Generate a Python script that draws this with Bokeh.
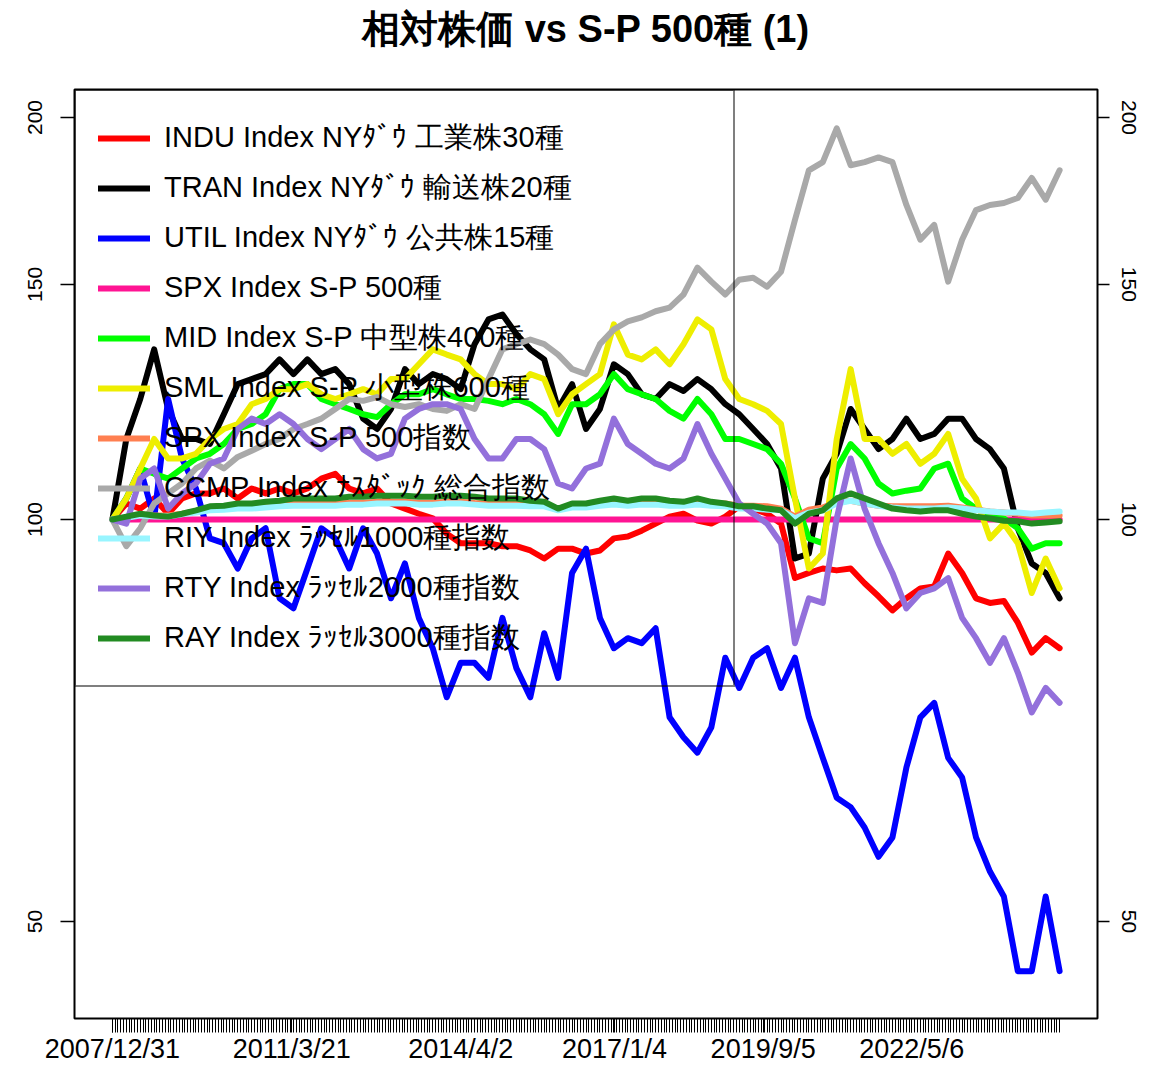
import numpy as np
import pandas as pd
from bokeh.plotting import figure
from bokeh.models import (FixedTicker, LogAxis, Legend, LegendItem, Range1d,
                          ColumnDataSource)
from bokeh.embed import file_html
from bokeh.resources import INLINE

# ---------------- data (quarterly samples, relative to S&P 500 = 100) ----------------
start_date = "2007/12/31"
tick_dates = ["2007/12/31", "2011/3/21", "2014/4/2", "2017/1/4", "2019/9/5", "2022/5/6"]
y_ticks = [50, 100, 150, 200]

labels = [
    "INDU Index NYﾀﾞｳ 工業株30種",
    "TRAN Index NYﾀﾞｳ 輸送株20種",
    "UTIL Index NYﾀﾞｳ 公共株15種",
    "SPX Index S-P 500種",
    "MID Index S-P 中型株400種",
    "SML Index S-P 小型株600種",
    "SPX Index S-P 500指数",
    "CCMP Index ﾅｽﾀﾞｯｸ 総合指数",
    "RIY Index ﾗｯｾﾙ1000種指数",
    "RTY Index ﾗｯｾﾙ2000種指数",
    "RAY Index ﾗｯｾﾙ3000種指数",
]
colors = ["#FF0000", "#000000", "#0000FF", "#FF1493", "#00FF00", "#EEEE00",
          "#FF7F50", "#A9A9A9", "#98F5FF", "#9370DB", "#228B22"]

indu = [100.0, 102.8, 101.9, 103.7, 101.0, 103.7, 104.6, 104.6, 105.5, 103.7,
        105.5, 104.6, 105.5, 104.6, 105.5, 107.3, 108.2, 105.5, 104.6, 105.5,
        102.8, 101.9, 101.0, 100.2, 97.6, 96.0, 96.0, 96.0, 95.5, 95.5,
        94.8, 93.5, 95.1, 95.1, 94.3, 94.8, 96.8, 97.1, 98.1, 99.3,
        100.5, 101.0, 99.8, 99.3, 100.5, 102.3, 101.9, 101.0, 99.3, 90.4,
        91.2, 91.9, 91.6, 91.9, 89.6, 87.6, 85.5, 87.3, 88.8, 89.1,
        94.3, 91.2, 87.3, 86.6, 86.9, 83.7, 79.5, 81.5, 80.1]
tran = [100.0, 114.9, 123.1, 134.1, 121.0, 114.9, 114.9, 113.9, 119.9, 126.3,
        127.4, 128.5, 131.8, 128.5, 131.8, 128.5, 129.6, 126.3, 119.0, 116.9,
        121.0, 129.6, 126.3, 128.5, 127.4, 125.2, 135.3, 141.2, 142.4, 137.7,
        134.1, 131.8, 121.0, 126.3, 116.9, 121.0, 130.7, 128.5, 124.1, 123.1,
        126.3, 124.8, 127.4, 125.2, 122.0, 119.9, 116.9, 113.9, 109.2, 93.5,
        94.3, 107.3, 112.0, 121.0, 116.9, 112.9, 114.9, 119.0, 114.9, 115.9,
        119.0, 119.0, 114.9, 112.9, 109.2, 98.5, 92.7, 91.2, 87.3]
util = [100.0, 103.7, 109.2, 100.2, 123.1, 111.1, 105.5, 96.8, 96.0, 91.9,
        96.8, 98.5, 87.3, 85.8, 91.9, 98.5, 96.8, 91.9, 98.5, 94.3,
        87.3, 92.7, 84.4, 80.1, 73.6, 78.1, 78.1, 76.1, 84.4, 77.4,
        73.6, 82.2, 76.1, 91.2, 95.1, 84.4, 80.1, 81.5, 80.8, 82.9,
        71.1, 68.7, 66.9, 69.9, 78.8, 74.8, 78.8, 80.1, 74.8, 78.8,
        71.1, 66.3, 61.9, 60.9, 58.8, 55.9, 57.8, 65.2, 71.1, 72.9,
        66.3, 64.1, 57.8, 54.5, 52.2, 45.9, 45.9, 52.2, 45.9]
spx = [100.0, 100.0, 100.0, 100.0, 100.0, 100.0, 100.0, 100.0, 100.0, 100.0,
       100.0, 100.0, 100.0, 100.0, 100.0, 100.0, 100.0, 100.0, 100.0, 100.0,
       100.0, 100.0, 100.0, 100.0, 100.0, 100.0, 100.0, 100.0, 100.0, 100.0,
       100.0, 100.0, 100.0, 100.0, 100.0, 100.0, 100.0, 100.0, 100.0, 100.0,
       100.0, 100.0, 100.0, 100.0, 100.0, 100.0, 100.0, 100.0, 100.0, 100.0,
       100.0, 100.0, 100.0, 100.0, 100.0, 100.0, 100.0, 100.0, 100.0, 100.0,
       100.0, 100.0, 100.0, 100.0, 100.0, 100.0, 100.0, 100.0, 100.0]
mid = [100.0, 103.7, 109.2, 108.2, 107.3, 109.2, 111.1, 112.0, 113.9, 116.9,
       117.9, 119.9, 125.2, 126.3, 126.3, 123.1, 122.0, 121.0, 119.9, 119.3,
       122.0, 124.1, 124.1, 125.2, 124.1, 123.1, 123.1, 122.7, 122.0, 123.1,
       122.0, 119.9, 115.9, 122.0, 122.0, 124.1, 128.5, 125.2, 124.1, 123.1,
       120.6, 119.0, 123.1, 119.9, 114.9, 114.9, 113.9, 112.9, 110.1, 103.7,
       96.8, 96.0, 109.2, 113.9, 111.1, 106.4, 104.6, 105.1, 105.5, 109.2,
       110.1, 103.7, 101.9, 101.0, 100.2, 98.5, 95.1, 96.0, 96.0]
sml = [100.0, 103.7, 109.2, 114.9, 111.1, 111.1, 112.0, 114.9, 116.9, 117.9,
       122.0, 123.1, 125.2, 125.2, 126.3, 124.1, 123.1, 124.1, 125.2, 124.1,
       127.4, 127.4, 130.7, 134.1, 132.9, 131.8, 128.5, 126.3, 126.3, 125.2,
       128.5, 127.4, 119.9, 124.1, 126.3, 128.5, 140.0, 132.9, 131.8, 134.1,
       130.7, 135.3, 141.2, 138.8, 127.4, 123.1, 122.0, 120.6, 117.9, 103.7,
       91.9, 94.3, 114.9, 129.6, 114.9, 114.9, 112.0, 113.9, 110.1, 112.0,
       115.9, 107.3, 103.7, 96.8, 99.3, 96.0, 88.1, 93.5, 88.8]
spx_idx = [100.0, 100.3, 100.9, 100.7, 100.7, 101.0, 101.4, 101.7, 101.9, 102.1,
           102.3, 102.4, 102.6, 102.8, 102.8, 102.8, 102.8, 102.9, 102.9, 103.1,
           103.1, 103.1, 102.9, 102.9, 103.1, 103.1, 102.9, 102.8, 102.8, 102.8,
           102.6, 102.6, 101.9, 102.4, 102.4, 102.9, 103.1, 102.9, 103.1, 103.1,
           102.9, 102.9, 103.1, 102.9, 102.8, 102.4, 102.4, 102.3, 101.9, 100.5,
           101.7, 102.1, 103.1, 103.3, 102.8, 102.4, 102.3, 102.3, 102.3, 102.3,
           102.4, 102.1, 101.7, 101.4, 101.2, 101.0, 100.7, 100.7, 100.7]
ccmp = [100.0, 95.5, 98.5, 102.8, 104.6, 106.4, 109.2, 110.7, 109.2, 111.4,
        112.6, 113.9, 114.9, 116.9, 117.9, 119.0, 121.0, 123.1, 122.7, 123.5,
        122.0, 121.4, 122.0, 121.0, 120.6, 122.0, 121.0, 127.4, 134.1, 135.3,
        136.4, 135.3, 132.9, 129.6, 128.5, 135.3, 138.8, 140.7, 141.7, 143.2,
        144.1, 147.4, 154.4, 150.7, 147.4, 151.2, 151.7, 149.4, 153.3, 167.6,
        182.6, 185.2, 196.3, 184.2, 185.2, 186.7, 185.2, 172.0, 162.0, 166.2,
        150.7, 162.0, 170.5, 172.0, 172.6, 174.1, 180.2, 173.6, 182.6]
riy = [100.0, 100.3, 100.7, 100.5, 100.5, 100.9, 101.2, 101.6, 101.7, 101.9,
       101.9, 102.1, 102.3, 102.4, 102.4, 102.4, 102.4, 102.6, 102.6, 102.8,
       102.8, 102.8, 102.6, 102.6, 102.8, 102.8, 102.6, 102.4, 102.4, 102.4,
       102.3, 102.3, 101.6, 102.1, 102.1, 102.4, 102.6, 102.4, 102.6, 102.6,
       102.4, 102.4, 102.6, 102.4, 102.3, 101.9, 101.9, 101.7, 101.6, 100.2,
       101.2, 101.6, 102.8, 103.3, 102.8, 102.4, 102.1, 101.9, 101.9, 101.9,
       102.1, 101.9, 101.6, 101.4, 101.2, 101.2, 101.0, 101.2, 101.4]
rty = [100.0, 99.3, 107.3, 109.2, 101.9, 104.6, 106.4, 110.1, 111.1, 116.9,
       119.0, 117.9, 119.9, 117.9, 114.9, 112.9, 114.9, 116.9, 112.9, 111.1,
       112.0, 119.0, 121.0, 122.0, 122.0, 121.0, 114.9, 111.1, 111.1, 114.9,
       114.9, 112.9, 106.4, 105.5, 109.2, 110.1, 119.0, 113.9, 112.0, 110.1,
       109.2, 111.1, 117.9, 112.0, 107.3, 102.8, 101.0, 99.3, 96.0, 80.8,
       87.3, 86.6, 100.2, 111.1, 101.9, 96.0, 91.2, 85.8, 88.1, 88.8,
       90.4, 84.4, 81.5, 78.1, 81.5, 76.8, 71.7, 74.8, 72.9]
ray = [100.0, 100.5, 101.0, 100.7, 100.5, 101.0, 101.6, 102.3, 102.4, 102.8,
       102.8, 103.1, 103.3, 103.7, 103.7, 103.7, 103.7, 104.0, 104.0, 104.2,
       104.2, 104.2, 104.0, 104.0, 104.2, 104.2, 104.0, 103.7, 103.7, 103.7,
       103.3, 103.1, 101.9, 102.8, 102.8, 103.3, 103.7, 103.3, 103.7, 103.7,
       103.3, 103.1, 103.7, 103.1, 102.8, 102.3, 102.3, 101.9, 101.6, 99.3,
       101.0, 101.6, 103.7, 104.6, 103.7, 102.8, 101.9, 101.6, 101.4, 101.6,
       101.6, 101.0, 100.5, 100.2, 99.8, 99.7, 99.3, 99.5, 99.7]

series = [indu, tran, util, spx, mid, sml, spx_idx, ccmp, riy, rty, ray]

# ---------------- figure ----------------
n = len(indu)
x = np.arange(n)                       # quarter index since start_date
pad = 0.04 * (n - 1)
t0 = pd.to_datetime(start_date, format="%Y/%m/%d")
tick_pos = [round((pd.to_datetime(d, format="%Y/%m/%d") - t0).days / 91.3125, 3)
            for d in tick_dates]

FONT = "Liberation Sans"

p = figure(width=1144, height=1066, y_axis_type="log",
           x_range=Range1d(-pad, (n - 1) + pad), y_range=Range1d(42.3, 209.9),
           output_backend="svg", toolbar_location=None,
           min_border_left=74, min_border_right=47, min_border_top=89,
           min_border_bottom=47)
p.grid.visible = False
p.outline_line_color = "black"
p.outline_line_width = 2
p.background_fill_color = "white"
p.border_fill_color = "white"

# second (blank) line keeps the title well above the plot frame
p.title.text = "相対株価 vs S-P 500種 (1)\n\u00a0"
p.title.align = "center"
p.title.text_font = FONT
p.title.text_font_size = "38px"
p.title.text_font_style = "bold"
p.title.text_color = "black"
p.title.text_line_height = 0.95
p.title.standoff = 0

items = []
for vals, lab, col in zip(series, labels, colors):
    src = ColumnDataSource(dict(x=x, y=vals))
    r = p.line("x", "y", source=src, line_color=col, line_width=6,
               line_join="round", line_cap="round")
    items.append(LegendItem(label=lab, renderers=[r]))

# bottom axis
xa = p.xaxis[0]
xa.ticker = FixedTicker(ticks=tick_pos,
                        minor_ticks=list(np.round(np.arange(0, n - 1 + 1e-9, 0.2), 3)))
xa.major_label_overrides = {tp: d for tp, d in zip(tick_pos, tick_dates)}
xa.axis_line_color = None
xa.major_tick_in = 0
xa.major_tick_out = 14
xa.minor_tick_in = 0
xa.minor_tick_out = 14
xa.major_tick_line_color = "black"
xa.minor_tick_line_color = "black"
xa.major_label_text_font = FONT
xa.major_label_text_font_size = "27px"
xa.major_label_text_color = "black"
xa.major_label_standoff = 1

# left / right log axes
ya = p.yaxis[0]
ra = LogAxis()
p.add_layout(ra, "right")
for ax, tick_len, stand in ((ya, 14, 18), (ra, 12, 12)):
    ax.ticker = FixedTicker(ticks=y_ticks)
    ax.major_label_overrides = {t: str(t) for t in y_ticks}
    ax.axis_line_color = None
    ax.major_tick_in = 0
    ax.major_tick_out = tick_len
    ax.minor_tick_line_color = None
    ax.major_tick_line_color = "black"
    ax.major_tick_line_width = 1.5
    ax.major_label_orientation = "vertical"
    ax.major_label_text_font = FONT
    ax.major_label_text_font_size = "21px"
    ax.major_label_text_color = "black"
    ax.major_label_standoff = stand

legend = Legend(items=items, location="top_left", margin=0, padding=22,
                spacing=0, glyph_width=52, glyph_height=50, label_height=50,
                label_width=547, label_standoff=14,
                label_text_font=FONT, label_text_font_size="29px",
                label_text_color="black",
                border_line_color="black", border_line_width=2,
                background_fill_alpha=0)
p.add_layout(legend)

open("out.html", "w").write(file_html(p, INLINE))
